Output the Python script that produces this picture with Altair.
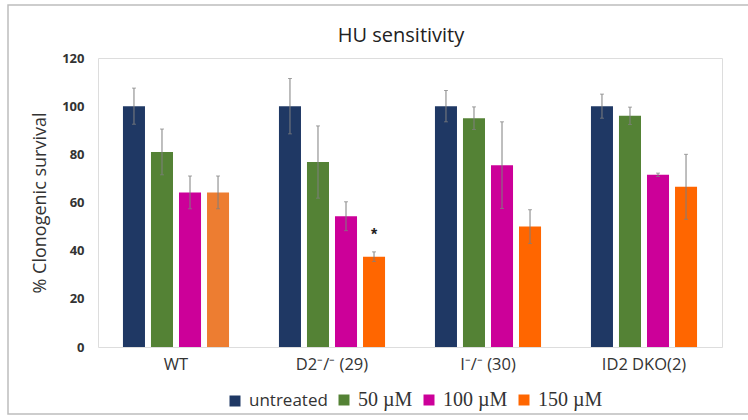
import altair as alt
import pandas as pd

groups = ["WT", "D2⁻/⁻ (29)", "I⁻/⁻ (30)", "ID2 DKO(2)"]
series = ["untreated", "50 µM", "100 µM", "150 µM"]
colors = ["#1F3864", "#548235", "#CC0099", "#FF6600"]

values = {
    "WT":          [100, 81.0, 64.2, 64.2],
    "D2⁻/⁻ (29)":  [100, 76.8, 54.3, 37.5],
    "I⁻/⁻ (30)":   [100, 95.0, 75.5, 50.0],
    "ID2 DKO(2)":  [100, 96.0, 71.5, 66.5],
}
errors = {
    "WT":          [7.5, 9.5, 6.8, 6.8],
    "D2⁻/⁻ (29)":  [11.5, 15.0, 6.0, 2.0],
    "I⁻/⁻ (30)":   [6.5, 4.7, 18.0, 7.0],
    "ID2 DKO(2)":  [5.0, 3.6, 0.7, 13.5],
}
star_group = "D2⁻/⁻ (29)"
star_series = "150 µM"
star_y = 46.5
title_text = "HU sensitivity"

rows = []
for g in groups:
    for i, s in enumerate(series):
        v = values[g][i]
        e = errors[g][i]
        rows.append({"group": g, "series": s, "value": v, "lo": v - e, "hi": v + e})
df = pd.DataFrame(rows)
star_df = pd.DataFrame([{"group": star_group, "series": star_series, "y": star_y, "t": "*"}])

W, H = 624, 289

x_enc = alt.X("group:N", sort=groups, title=None,
              scale=alt.Scale(paddingInner=0.32, paddingOuter=0.16),
              axis=alt.Axis(labelAngle=0, labelFontSize=16.5, labelFont="Open Sans",
                            labelColor="#333", labelPadding=9, domain=False, ticks=False))
xo = alt.XOffset("series:N", sort=series, scale=alt.Scale(paddingInner=0.214, paddingOuter=0))
y_scale = alt.Scale(domain=[0, 120])

bars = alt.Chart(df).mark_bar(opacity=1).encode(
    x=x_enc,
    xOffset=xo,
    y=alt.Y("value:Q", scale=y_scale, title="% Clonogenic survival",
            axis=alt.Axis(values=[0, 20, 40, 60, 80, 100, 120], grid=False, domain=False,
                          ticks=False, labelFontSize=13, labelFontWeight="bold",
                          labelFont="Open Sans",
                          labelColor="#333", labelPadding=14, titleFontSize=18,
                          titleFont="Open Sans", titleFontWeight="normal",
                          titleColor="#333", titlePadding=12)),
    color=alt.condition(
        "datum.group == 'WT' && datum.series == '150 µM'",
        alt.value("#ED7D31"),
        alt.Color("series:N", sort=series,
                  scale=alt.Scale(domain=series, range=colors),
                  legend=alt.Legend(title=None, orient="none", direction="horizontal",
                                    legendX=127, legendY=332, symbolType="square",
                                    symbolSize=121, symbolStrokeWidth=0,
                                    labelFontSize={"expr": "datum.label == 'untreated' ? 17 : 20"},
                                    labelFont={"expr": "datum.label == 'untreated' ? 'Open Sans' : 'Liberation Serif'"},
                                    labelColor="#333", labelOffset=4, columnPadding=6,
                                    symbolOpacity=1)),
    ),
)

err = alt.Chart(df).mark_rule(color="#7f7f7f", strokeWidth=1).encode(
    x=alt.X("group:N", sort=groups),
    xOffset=xo,
    y=alt.Y("lo:Q", scale=y_scale),
    y2="hi:Q",
)
cap_hi = alt.Chart(df).mark_tick(color="#7f7f7f", size=4, thickness=1).encode(
    x=alt.X("group:N", sort=groups), xOffset=xo, y=alt.Y("hi:Q", scale=y_scale))
cap_lo = alt.Chart(df).mark_tick(color="#7f7f7f", size=4, thickness=1).encode(
    x=alt.X("group:N", sort=groups), xOffset=xo, y=alt.Y("lo:Q", scale=y_scale))

star = alt.Chart(star_df).mark_text(fontSize=16, fontWeight="bold", color="#222", baseline="middle").encode(
    x=alt.X("group:N", sort=groups), xOffset=alt.XOffset("series:N", sort=series),
    y=alt.Y("y:Q", scale=y_scale), text="t:N")

title = alt.Chart(pd.DataFrame([{"t": title_text}])).mark_text(
    fontSize=20, font="Open Sans", color="#222", baseline="middle", align="center").encode(
    x=alt.value(W / 2 - 9), y=alt.value(-22), text="t:N")

border = alt.Chart(pd.DataFrame([{"a": 0}])).mark_rect(fill=None, stroke="#bdbdbd", strokeWidth=1.5).encode(
    x=alt.value(-90), x2=alt.value(W + 40), y=alt.value(-53), y2=alt.value(H + 67))

chart = alt.layer(border, bars, err, cap_hi, cap_lo, star, title).properties(
    width=W, height=H,
    autosize=alt.AutoSizeParams(type="none"),
    padding={"left": 98, "top": 58, "right": 26, "bottom": 73},
).configure_view(stroke="#9a9a9a", strokeWidth=1.5).configure(background="white")

chart.save("out.html", embed_options={"renderer": "svg", "actions": False})
